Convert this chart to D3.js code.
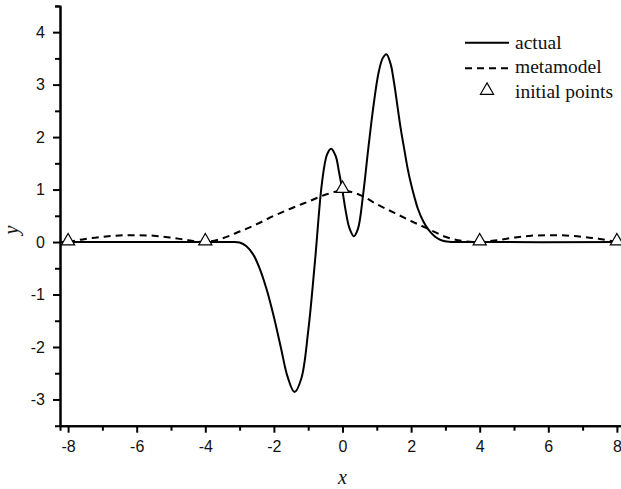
<!DOCTYPE html>
<html>
<head>
<meta charset="utf-8">
<script src="https://cdn.jsdelivr.net/npm/d3@7"></script>
<style>
  body { margin: 0; background: #fff; }
  .axis path, .axis line { stroke: #000; stroke-width: 2px; }
  .axis text { font-family: "Liberation Sans", Arial, sans-serif; font-size: 16px; fill: #111; }
  .legend text, .axis-title { font-family: "Liberation Serif", "Times New Roman", serif; fill: #111; }
</style>
</head>
<body>
<svg id="chart"></svg>
<script>
// actual function
const actualX = [-8.24, -3.4, -3.2, -3.0, -2.8, -2.6, -2.4, -2.2, -2.0, -1.8, -1.6, -1.4, -1.2, -1.0, -0.8, -0.6, -0.45, -0.33, -0.2, -0.1, 0, 0.1, 0.2, 0.33, 0.45, 0.6, 0.75, 0.9, 1.05, 1.17, 1.28, 1.4, 1.5, 1.6, 1.7, 1.8, 1.9, 2.0, 2.1, 2.2, 2.35, 2.5, 2.7, 2.9, 3.1, 3.4, 8.24];
const actualY = [0, 0, 0, -0.01, -0.08, -0.24, -0.53, -0.93, -1.43, -2.0, -2.57, -2.86, -2.6, -1.7, -0.35, 1.12, 1.67, 1.78, 1.64, 1.33, 0.97, 0.57, 0.27, 0.11, 0.25, 0.9, 1.77, 2.58, 3.22, 3.5, 3.58, 3.4, 3.05, 2.6, 2.15, 1.77, 1.4, 1.1, 0.85, 0.63, 0.4, 0.24, 0.1, 0.03, 0.005, 0, 0];

// metamodel
const metaX = [-8, -7.5, -7, -6.5, -6, -5.5, -5, -4.5, -4, -3.5, -3, -2.5, -2, -1.5, -1, -0.5, 0, 0.5, 1, 1.5, 2, 2.5, 3, 3.5, 4, 4.5, 5, 5.5, 6, 6.5, 7, 7.5, 8];
const metaY = [0, 0.06, 0.1, 0.125, 0.13, 0.12, 0.085, 0.035, 0, 0.07, 0.2, 0.34, 0.5, 0.64, 0.77, 0.9, 0.98, 0.9, 0.72, 0.56, 0.4, 0.25, 0.1, 0.02, 0, 0.035, 0.085, 0.12, 0.13, 0.125, 0.1, 0.06, 0];

// initial sample points
const initX = [-8, -4, 0, 4, 8];
const initY = [0, 0, 1, 0, 0];

const xMajor = [-8, -6, -4, -2, 0, 2, 4, 6, 8];
const xMinor = [-7, -5, -3, -1, 1, 3, 5, 7];
const yMajor = [-3, -2, -1, 0, 1, 2, 3, 4];
const yMinor = [-2.5, -1.5, -0.5, 0.5, 1.5, 2.5, 3.5, 4.5];

const legendLabels = ['actual', 'metamodel', 'initial points'];

class MetamodelChart {
  constructor(_config) {
    this.config = {
      parentElement: _config.parentElement,
      containerWidth: _config.containerWidth || 621,
      containerHeight: _config.containerHeight || 489
    }
    this.initVis();
  }

  initVis() {
    let vis = this;

    vis.svg = d3.select(vis.config.parentElement)
        .attr('width', vis.config.containerWidth)
        .attr('height', vis.config.containerHeight);

    vis.xScale = d3.scaleLinear()
        .domain([-8.236, 8.236])
        .range([60, 625]);

    vis.yScale = d3.scaleLinear()
        .domain([-3.5, 4.5])
        .range([425.7, 5.9]);

    vis.xMinorG = vis.svg.append('g').attr('class', 'axis').attr('transform', 'translate(0,425.7)');
    vis.xAxisG = vis.svg.append('g').attr('class', 'axis').attr('transform', 'translate(0,425.7)');
    vis.yMinorG = vis.svg.append('g').attr('class', 'axis').attr('transform', 'translate(60,0)');
    vis.yAxisG = vis.svg.append('g').attr('class', 'axis').attr('transform', 'translate(60,0)');

    vis.lineGen = d3.line()
        .x(d => vis.xScale(d[0]))
        .y(d => vis.yScale(d[1]))
        .curve(d3.curveCatmullRom.alpha(0.5));

    vis.renderVis();
  }

  renderVis() {
    let vis = this;

    vis.xMinorG.call(d3.axisBottom(vis.xScale).tickValues(xMinor).tickSize(5).tickFormat(''));
    vis.xAxisG.call(d3.axisBottom(vis.xScale).tickValues(xMajor).tickSize(7).tickSizeOuter(0).tickPadding(8).tickFormat(d => d));
    vis.yMinorG.call(d3.axisLeft(vis.yScale).tickValues(yMinor).tickSize(5).tickFormat(''));
    vis.yAxisG.call(d3.axisLeft(vis.yScale).tickValues(yMajor).tickSize(7).tickSizeOuter(0).tickPadding(8).tickFormat(d => d));

    let actual = actualX.map((x, i) => [x, actualY[i]]);
    let meta = metaX.map((x, i) => [x, metaY[i]]);

    vis.svg.append('path')
        .attr('d', vis.lineGen(meta))
        .attr('fill', 'none')
        .attr('stroke', '#000')
        .attr('stroke-width', 2)
        .attr('stroke-dasharray', '7,5');

    vis.svg.append('path')
        .attr('d', vis.lineGen(actual))
        .attr('fill', 'none')
        .attr('stroke', '#000')
        .attr('stroke-width', 2);

    const tri = d3.symbol().type(d3.symbolTriangle).size(75);

    vis.svg.selectAll('.pt')
        .data(initX.map((x, i) => [x, initY[i]]))
      .join('path')
        .attr('class', 'pt')
        .attr('d', tri)
        .attr('transform', d => `translate(${vis.xScale(d[0])},${vis.yScale(d[1]) - 1})`)
        .attr('fill', '#fff')
        .attr('stroke', '#000')
        .attr('stroke-width', 1.2);

    // legend
    let lg = vis.svg.append('g').attr('class', 'legend');
    lg.append('line').attr('x1', 465).attr('x2', 509).attr('y1', 42.7).attr('y2', 42.7)
        .attr('stroke', '#000').attr('stroke-width', 2);
    lg.append('line').attr('x1', 465).attr('x2', 510).attr('y1', 68.3).attr('y2', 68.3)
        .attr('stroke', '#000').attr('stroke-width', 2).attr('stroke-dasharray', '7,5');
    lg.append('path').attr('d', tri).attr('transform', 'translate(487,90.5)')
        .attr('fill', '#fff').attr('stroke', '#000').attr('stroke-width', 1.2);
    lg.selectAll('text')
        .data(legendLabels)
      .join('text')
        .attr('x', 515)
        .attr('y', (d, i) => 48.5 + i * 24.5)
        .style('font-size', '19.5px')
        .text(d => d);

    vis.svg.append('text')
        .attr('class', 'axis-title')
        .attr('x', vis.xScale(0))
        .attr('y', 484)
        .attr('text-anchor', 'middle')
        .style('font-size', '20px')
        .style('font-style', 'italic')
        .text('x');

    vis.svg.append('text')
        .attr('class', 'axis-title')
        .attr('transform', 'translate(18,230) rotate(-90)')
        .attr('text-anchor', 'middle')
        .style('font-size', '20px')
        .style('font-style', 'italic')
        .text('y');
  }
}

new MetamodelChart({ parentElement: '#chart' });
</script>
</body>
</html>
